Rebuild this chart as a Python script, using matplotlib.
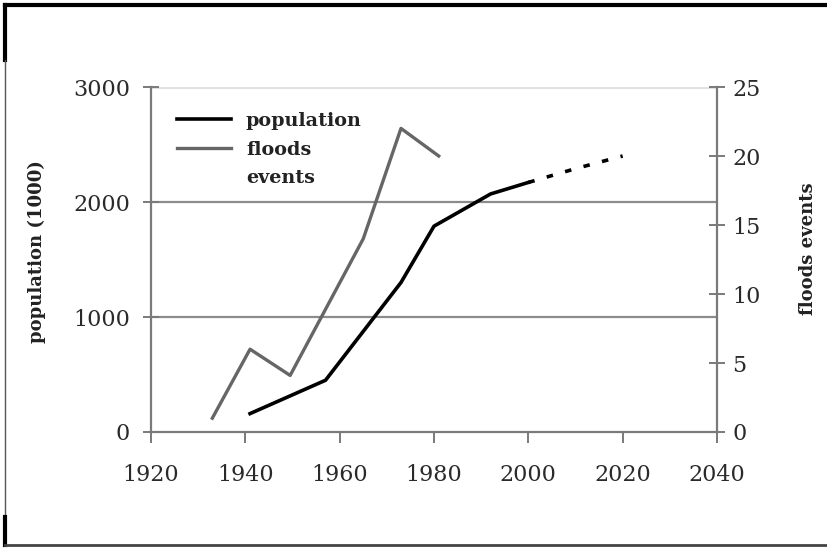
import matplotlib.pyplot as plt
from matplotlib.lines import Line2D

# Population (thousands), measured
pop_years = [1941, 1957, 1973, 1980, 1992, 2000]
pop_values = [160, 450, 1300, 1790, 2070, 2170]

# Projected population (dashed part)
proj_years = [2000, 2010, 2020]
proj_values = [2170, 2290, 2400]

# Flood events
flood_years = [1933, 1941, 1949.5, 1965, 1973, 1981]
flood_values = [1, 6, 4.1, 14, 22, 20]

x_ticks = [1920, 1940, 1960, 1980, 2000, 2020, 2040]
left_ticks = [0, 1000, 2000, 3000]
right_ticks = [0, 5, 10, 15, 20, 25]

plt.rcParams['font.family'] = ['DejaVu Serif']

fig = plt.figure(figsize=(8.28, 5.48), dpi=100)
ax = fig.add_axes([151 / 828, 1 - 432 / 548, (717 - 151) / 828, (432 - 87) / 548])
ax2 = ax.twinx()

grey = '#7a7a7a'

# Horizontal lines
ax.axhline(1000, color='#8c8c8c', lw=1.6, zorder=1)
ax.axhline(2000, color='#8c8c8c', lw=1.6, zorder=1)
ax.axhline(3000, color='#e2e2e2', lw=3, zorder=1)

# Lines
ax.plot(pop_years, pop_values, color='black', lw=2.6, zorder=3)
ax.plot(proj_years, proj_values, color='black', lw=2.6, linestyle=(0, (1.8, 3.5)), zorder=3)
ax2.plot(flood_years, flood_values, color='#666666', lw=2.4)

ax.set_xlim(1920, 2040)
ax.set_ylim(0, 3000)
ax2.set_ylim(0, 25)
ax.set_xticks(x_ticks)
ax.set_yticks(left_ticks)
ax2.set_yticks(right_ticks)

for a in (ax, ax2):
    a.spines['top'].set_visible(False)
ax2.spines['left'].set_visible(False)
ax2.spines['bottom'].set_visible(False)
ax.spines['right'].set_visible(False)
for s in ('left', 'bottom'):
    ax.spines[s].set_color(grey)
    ax.spines[s].set_linewidth(1.6)
ax2.spines['right'].set_color(grey)
ax2.spines['right'].set_linewidth(1.6)

ax.tick_params(axis='y', direction='inout', length=12, width=1.4, color=grey,
               pad=9, labelsize=16, labelcolor='#2a2a2a')
ax.tick_params(axis='x', direction='out', length=8, width=1.4, color=grey,
               pad=15, labelsize=16, labelcolor='#2a2a2a')
ax2.tick_params(axis='y', direction='inout', length=12, width=1.4, color=grey,
                pad=5, labelsize=16, labelcolor='#2a2a2a')

# Axis labels
fig.text(37 / 828, 1 - 252 / 548, 'population (1000)', rotation=90, fontsize=13,
         fontweight='bold', color='#222222', ha='center', va='center')
fig.text(808 / 828, 1 - 249 / 548, 'floods events', rotation=90, fontsize=13,
         fontweight='bold', color='#222222', ha='center', va='center')

# Legend
handles = [Line2D([], [], color='black', lw=2.6),
           Line2D([], [], color='#666666', lw=2.4),
           Line2D([], [], color='none')]
labels = ['population', 'floods', 'events']
leg = ax.legend(handles, labels, loc='upper left',
                bbox_to_anchor=(177 / 828, 1 - 112 / 548), bbox_transform=fig.transFigure,
                frameon=False, handlelength=2.8, handletextpad=0.8, labelspacing=0.55,
                borderpad=0, borderaxespad=0,
                prop={'family': 'DejaVu Serif', 'weight': 'bold', 'size': 13.8})
for t in leg.get_texts():
    t.set_color('#222222')

# Outer frame
frame = [
    ((5, 828), (5, 5), 'black', 3),
    ((5, 5), (5, 60), 'black', 3),
    ((5, 5), (60, 517), '#555555', 1),
    ((5, 5), (517, 545), 'black', 3),
    ((5, 828), (545, 545), '#444444', 2),
]
for xs, ys, c, w in frame:
    fig.add_artist(Line2D([x / 828 for x in xs], [1 - y / 548 for y in ys],
                          transform=fig.transFigure, color=c, lw=w))

fig.savefig('out.png', dpi=100)
